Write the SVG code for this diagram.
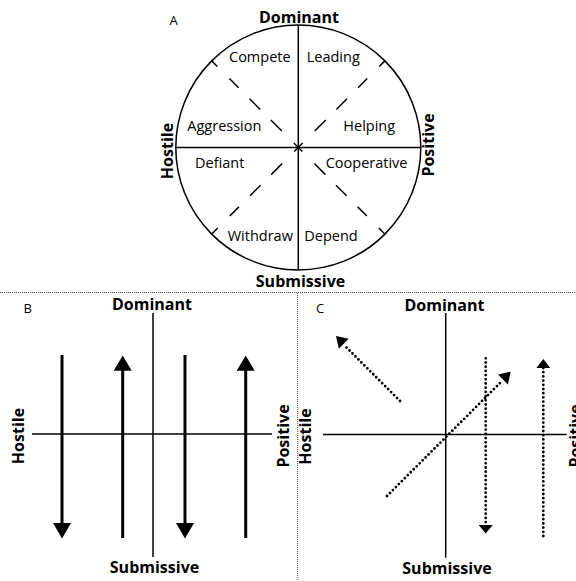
<svg xmlns="http://www.w3.org/2000/svg" width="576" height="581" viewBox="0 0 576 581">
<style>
.lbl{font-family:"Open Sans","Liberation Sans",sans-serif;font-size:14.5px;fill:#000}
.ax{font-family:"Open Sans","Liberation Sans",sans-serif;font-size:16px;font-weight:bold;fill:#000;text-anchor:middle}
.pl{font-family:"Open Sans","Liberation Sans",sans-serif;font-size:13px;fill:#000}
.ln{stroke:#000;stroke-width:1.5;fill:none}
.dash{stroke:#000;stroke-width:1.5;fill:none;stroke-dasharray:8 17 13 15.6 15 15 15.6 17 12 17 15.6 15 15 15.6 13 17 8}
.thick{stroke:#000;stroke-width:3;fill:none}
.dot{stroke:#000;stroke-width:2.8;fill:none;stroke-dasharray:0 4.2;stroke-linecap:round}
.div{stroke:#444;stroke-width:1;fill:none;stroke-dasharray:1 1}
.head{fill:#000;stroke:none}
</style>

<g id="dividers">
<line class="div" x1="0" y1="292.5" x2="576" y2="292.5"/>
<line class="div" x1="297.7" y1="293" x2="297.7" y2="581"/>
</g>

<!-- Panel A -->
<g id="panelA">
<text class="pl" x="169.5" y="25">A</text>
<circle class="ln" cx="298.3" cy="147.5" r="122.5"/>
<line class="ln" x1="298.3" y1="25" x2="298.3" y2="270"/>
<line class="ln" x1="175.8" y1="147.5" x2="420.8" y2="147.5"/>
<line class="dash" x1="211.7" y1="60.9" x2="384.9" y2="234.1"/>
<line class="dash" x1="384.9" y1="60.9" x2="211.7" y2="234.1"/>
</g>
<g id="A-labels">
<text class="ax" x="299" y="23.3">Dominant</text>
<text class="ax" x="300.5" y="286.5">Submissive</text>
<text class="ax" transform="translate(172.7,151) rotate(-90)" x="0" y="0">Hostile</text>
<text class="ax" transform="translate(434.3,145) rotate(-90)" x="0" y="0">Positive</text>
<text class="lbl" x="229" y="62">Compete</text>
<text class="lbl" x="306.7" y="62">Leading</text>
<text class="lbl" x="187.3" y="131">Aggression</text>
<text class="lbl" x="343.3" y="131">Helping</text>
<text class="lbl" x="195" y="168.3">Defiant</text>
<text class="lbl" x="325.7" y="168.3">Cooperative</text>
<text class="lbl" x="227.7" y="241">Withdraw</text>
<text class="lbl" x="304.3" y="241">Depend</text>
</g>

<!-- Panel B -->
<g id="panelB">
<text class="pl" x="23.5" y="313">B</text>
<line class="ln" x1="153" y1="313" x2="153" y2="557"/>
<line class="ln" x1="32" y1="434" x2="272" y2="434"/>
<text class="ax" x="152" y="310">Dominant</text>
<text class="ax" x="154.5" y="572.7">Submissive</text>
<text class="ax" transform="translate(24,436) rotate(-90)" x="0" y="0">Hostile</text>
<text class="ax" transform="translate(289.3,436) rotate(-90)" x="0" y="0">Positive</text>
</g>
<g id="B-arrows">
<line class="thick" x1="62" y1="355" x2="62" y2="525"/>
<polygon class="head" points="53,523 71,523 62,538.5"/>
<line class="thick" x1="185" y1="355" x2="185" y2="525"/>
<polygon class="head" points="176,523 194,523 185,538.5"/>
<line class="thick" x1="122.7" y1="368" x2="122.7" y2="538"/>
<polygon class="head" points="113.7,370.7 131.7,370.7 122.7,355.5"/>
<line class="thick" x1="245.7" y1="368" x2="245.7" y2="538"/>
<polygon class="head" points="236.7,370.7 254.7,370.7 245.7,355.5"/>
</g>

<!-- Panel C -->
<g id="panelC">
<text class="pl" x="316" y="313">C</text>
<line class="ln" x1="445.7" y1="313" x2="445.7" y2="557.7"/>
<line class="ln" x1="323" y1="434.5" x2="566.7" y2="434.5"/>
<text class="ax" x="444.5" y="311">Dominant</text>
<text class="ax" x="447" y="574.3">Submissive</text>
<text class="ax" transform="translate(310.7,436.5) rotate(-90)" x="0" y="0">Hostile</text>
<text class="ax" transform="translate(580.5,436) rotate(-90)" x="0" y="0">Positive</text>
</g>
<g id="C-arrows">
<line class="dot" x1="400" y1="401" x2="344" y2="345"/>
<polygon class="head" points="336,336 348.7,338.8 338.8,348.7"/>
<line class="dot" x1="387" y1="496" x2="502" y2="381"/>
<polygon class="head" points="510.7,371.7 498,374.5 507.9,384.4"/>
<line class="dot" x1="485.7" y1="358.3" x2="485.7" y2="524"/>
<polygon class="head" points="478.7,525 492.7,525 485.7,533.5"/>
<line class="dot" x1="543.3" y1="536" x2="543.3" y2="368"/>
<polygon class="head" points="536.3,368 550.3,368 543.3,359"/>
</g>
</svg>
